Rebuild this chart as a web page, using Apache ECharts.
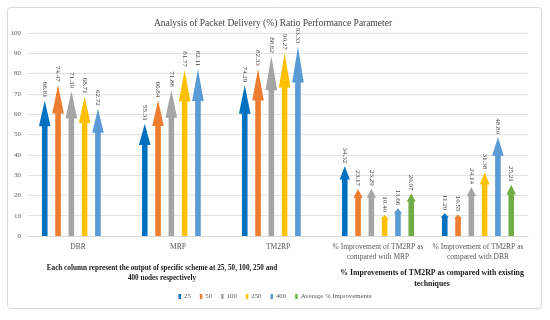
<!DOCTYPE html>
<html>
<head>
<meta charset="utf-8">
<script src="https://cdn.jsdelivr.net/npm/echarts@6/dist/echarts.min.js"></script>
<style>html,body{margin:0;padding:0;background:#fff}#c{width:550px;height:320px}</style>
</head>
<body>
<div id="c"></div>
<script>
var categories = ['DBR', 'MRP', 'TM2RP', '% Improvement of TM2RP as\ncompared with MRP', '% Improvement of TM2RP as\ncompared with DBR'];
var seriesNames = ['25', '50', '100', '250', '400', 'Average % Improvements'];
var s25 = [66.81, 55.31, 74.29, 34.32, 11.20];
var s50 = [74.47, 66.84, 82.33, 23.17, 10.55];
var s100 = [71.39, 71.88, 88.62, 23.29, 24.14];
var s250 = [68.71, 81.77, 90.27, 10.40, 31.38];
var s400 = [62.72, 82.11, 93.33, 13.66, 48.80];
var sAvg = [null, null, null, 20.97, 25.21];
var yTicks = {min: 0, max: 100, interval: 10};

var allValues = [s25, s50, s100, s250, s400, sAvg];
var colors = ['#0070C0', '#ED7D31', '#A5A5A5', '#FFC000', '#5B9BD5', '#70AD47'];
var FONT = '"Liberation Serif", "DejaVu Serif", serif';

function makeRender(idx) {
  return function (params, api) {
    var v = api.value(1);
    if (v == null || isNaN(v)) return null;
    var cat = api.value(0);
    var base = api.coord([cat, 0]);
    var tip = api.coord([cat, v]);
    var x = base[0] + (idx - 2.5) * 13.3;
    var y0 = base[1], y1 = tip[1];
    var L = y0 - y1;
    var headH = 0.19 * L;
    var hw = 2.8;
    var HW = Math.min(5.8, 3.6 + L * 0.022);
    var yh = y1 + headH;
    return {
      type: 'group',
      children: [
        {
          type: 'polygon',
          shape: {points: [[x - hw, y0], [x - hw, yh], [x - HW, yh], [x, y1], [x + HW, yh], [x + hw, yh], [x + hw, y0]]},
          style: {fill: colors[idx]}
        },
        {
          type: 'text',
          x: x,
          y: y1 - 3,
          rotation: -Math.PI / 2,
          style: {
            text: v.toFixed(2),
            fill: '#404040',
            font: '7px ' + FONT,
            align: 'right',
            verticalAlign: 'middle'
          }
        }
      ]
    };
  };
}

var series = seriesNames.map(function (name, i) {
  return {
    name: name,
    type: 'custom',
    itemStyle: {color: colors[i]},
    renderItem: makeRender(i),
    encode: {x: 0, y: 1},
    data: allValues[i].map(function (v, j) { return [j, v]; })
  };
});

var chart = echarts.init(document.getElementById('c'), null, {renderer: 'canvas'});
chart.setOption({
  backgroundColor: '#fff',
  animation: false,
  title: [
    {
      text: 'Analysis of Packet Delivery (%) Ratio Performance Parameter',
      left: 268, top: 13, textAlign: 'center',
      textStyle: {fontFamily: FONT, fontSize: 9.5, fontWeight: 'normal', color: '#404040'}
    },
    {
      text: 'Each column represent the output of specific scheme at 25, 50, 100, 250 and\n400 nodes respectively',
      left: 157, top: 258, textAlign: 'center',
      textStyle: {fontFamily: FONT, fontSize: 7.2, fontWeight: 'bold', color: '#1a1a1a', lineHeight: 10}
    },
    {
      text: '% Improvements of TM2RP as compared with existing\ntechniques',
      left: 427, top: 262, textAlign: 'center',
      textStyle: {fontFamily: FONT, fontSize: 7.8, fontWeight: 'bold', color: '#1a1a1a', lineHeight: 11}
    }
  ],
  graphic: [{
    type: 'rect',
    shape: {x: 7.5, y: 7.5, width: 534, height: 301, r: 3},
    style: {fill: 'none', stroke: '#d9d9d9', lineWidth: 1},
    silent: true, z: -1
  }],
  legend: {
    data: seriesNames,
    bottom: 15,
    left: 'center',
    icon: 'rect',
    itemWidth: 2.5,
    itemHeight: 5,
    itemGap: 9,
    textStyle: {fontFamily: FONT, fontSize: 6.8, color: '#595959', padding: [0, 0, 0, -2]}
  },
  grid: {left: 28, right: 22, top: 33, bottom: 84},
  xAxis: {
    type: 'category',
    data: categories,
    axisTick: {show: false},
    axisLine: {lineStyle: {color: '#d9d9d9'}},
    axisLabel: {interval: 0, fontFamily: FONT, fontSize: 7.5, color: '#595959', margin: 6, lineHeight: 10}
  },
  yAxis: {
    type: 'value',
    min: yTicks.min, max: yTicks.max, interval: yTicks.interval,
    axisLine: {show: false},
    axisTick: {show: false},
    splitLine: {lineStyle: {color: '#e3e3e3'}},
    axisLabel: {fontFamily: FONT, fontSize: 7, color: '#595959', margin: 7}
  },
  series: series
});
</script>
</body>
</html>
